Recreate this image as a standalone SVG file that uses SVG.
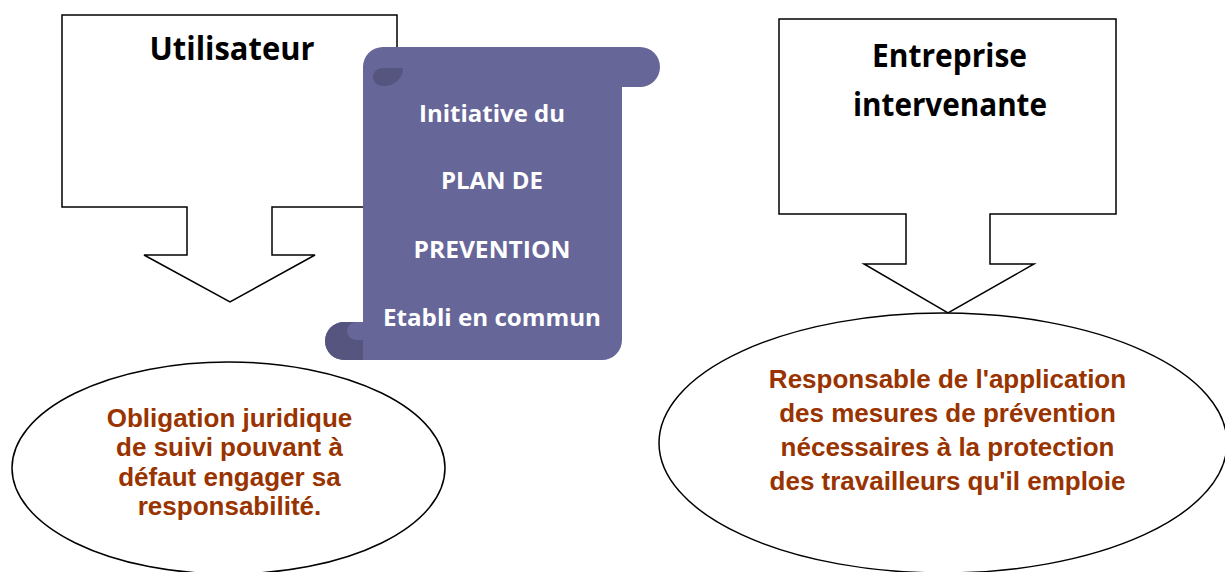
<svg xmlns="http://www.w3.org/2000/svg" width="1225" height="572" viewBox="0 0 1225 572">
<style>
.callout{fill:#ffffff;stroke:#000000;stroke-width:1.5;stroke-linejoin:miter}
.oval{fill:#ffffff;stroke:#000000;stroke-width:1.5}
.head{font-family:"Open Sans","Liberation Sans",sans-serif;font-weight:700;font-size:32px;fill:#000000;text-anchor:middle}
.scrolltxt{font-family:"Open Sans","Liberation Sans",sans-serif;font-weight:700;font-size:23px;fill:#ffffff;text-anchor:middle}
.body{font-family:"Liberation Sans",Arial,sans-serif;font-weight:700;font-size:26px;fill:#993300;text-anchor:middle}
.scroll{fill:#666699}
.curl{fill:#555580}
</style>
<g id="connectors"></g>
<g id="utilisateur">
<path class="callout" d="M62 15 H397 V207 H272 V255 H315 L230 302 L144 255 H187 V207 H62 Z"/>
<text class="head" x="232" y="60" textLength="165" lengthAdjust="spacingAndGlyphs">Utilisateur</text>
</g>
<g id="obligation">
<ellipse class="oval" cx="228.5" cy="468" rx="216.5" ry="106"/>
<text class="body" x="229.5" y="426.5">Obligation juridique</text>
<text class="body" x="229.5" y="456">de suivi pouvant à</text>
<text class="body" x="229.5" y="485.5">défaut engager sa</text>
<text class="body" x="229.5" y="515">responsabilité.</text>
</g>
<g id="plan">
<path class="scroll" d="M383 47 H640 A20 20 0 0 1 640 87 H622 V340 A20 20 0 0 1 602 360 H344 A19 19 0 0 1 344 322 H363 V67 A20 20 0 0 1 383 47 Z"/>
<path class="curl" d="M403 68 H382 A9 9 0 0 0 382 86 H384 A19 18 0 0 0 403 68 Z"/>
<path class="curl" d="M344 322 A19 19 0 0 0 344 360 H363 V322 Z"/>
<path class="scroll" d="M363 322 H356 A9 9 0 0 0 356 340 H363 Z"/>
<text class="scrolltxt" x="492" y="122" textLength="146" lengthAdjust="spacingAndGlyphs">Initiative du</text>
<text class="scrolltxt" x="492" y="189" textLength="102" lengthAdjust="spacingAndGlyphs">PLAN DE</text>
<text class="scrolltxt" x="492" y="258" textLength="157" lengthAdjust="spacingAndGlyphs">PREVENTION</text>
<text class="scrolltxt" x="492" y="326" textLength="218" lengthAdjust="spacingAndGlyphs">Etabli en commun</text>
</g>
<g id="entreprise">
<path class="callout" d="M779 19 H1116 V214 H990 V264 H1034 L948 313 L864 264 H906 V214 H779 Z"/>
<text class="head" x="949.5" y="67" textLength="155" lengthAdjust="spacingAndGlyphs">Entreprise</text>
<text class="head" x="950" y="116" textLength="194" lengthAdjust="spacingAndGlyphs">intervenante</text>
</g>
<g id="responsable">
<ellipse class="oval" cx="943" cy="443" rx="284" ry="130"/>
<text class="body" x="947.5" y="388">Responsable de l'application</text>
<text class="body" x="947.5" y="422">des mesures de prévention</text>
<text class="body" x="947.5" y="456">nécessaires à la protection</text>
<text class="body" x="947.5" y="490">des travailleurs qu'il emploie</text>
</g>
</svg>
